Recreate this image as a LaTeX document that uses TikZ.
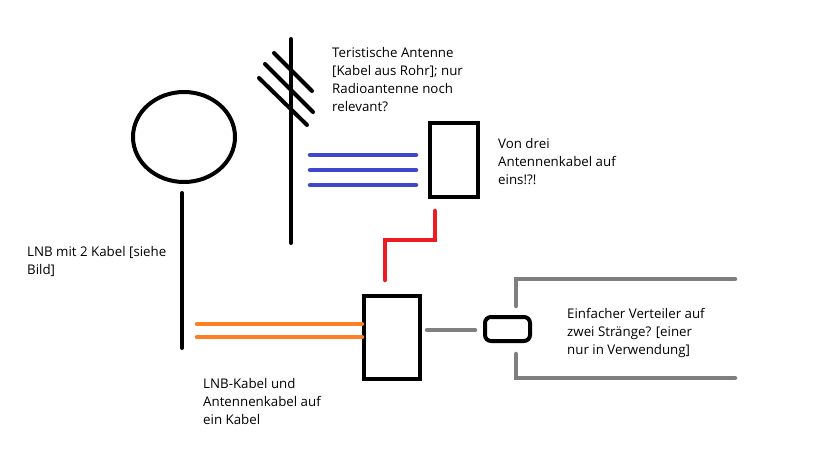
\documentclass[tikz,border=0pt]{standalone}
\usepackage{fontspec}
\setmainfont{Open Sans}
\usetikzlibrary{calc,positioning,shapes.geometric}
\definecolor{kabelblau}{RGB}{63,72,204}
\definecolor{kabelrot}{RGB}{237,28,36}
\definecolor{kabelorange}{RGB}{255,127,39}
\definecolor{kabelgrau}{RGB}{127,127,127}
\tikzset{
	kasten/.style={draw=black, line width=4pt, inner sep=0pt},
	notiz/.style={anchor=north west, align=left, inner sep=0pt, font=\fontsize{13.3}{18}\selectfont},
	kabel/.style={line width=4.5pt, line cap=round}
}

\begin{document}
\begin{tikzpicture}[x=1pt, y=-1pt]
		%%%%% START %%%%%
		\fill[white] (0, 0) rectangle (819, 460);
		\useasboundingbox (0, 0) rectangle (819, 460);
		
		% Schuessel mit LNB
		\node[kasten, ellipse, minimum width=102pt, minimum height=90pt] (schuessel) at (184, 137) {};
		\coordinate (lnboben) at (182, 193);
		\coordinate (lnbunten) at (182, 348);
		\draw[kabel, black, line width=4pt] (lnboben) -- (lnbunten);
		
		% terrestrische Antenne
		\coordinate (mastoben) at (291, 39);
		\coordinate (mastunten) at (291, 243);
		\draw[kabel, black, line width=4pt] (mastoben) -- (mastunten);
		\draw[kabel, black, line width=4pt] (274, 53) -- (312, 91);
		\draw[kabel, black, line width=4pt] (265, 64) -- (313, 112);
		\draw[kabel, black, line width=4pt] (259, 78) -- (307, 125);
		
		% Kaesten
		\node[kasten, minimum width=48pt, minimum height=74pt] (weiche) at (454, 160) {};
		\node[kasten, minimum width=56pt, minimum height=83pt] (einspeiser) at (392, 337.5) {};
		\node[kasten, rounded corners=6pt, minimum width=45pt, minimum height=24pt] (verteiler) at (507.5, 329) {};
		
		% Antennenkabel
		\foreach \y in {155, 170, 185}
			\draw[kabel, kabelblau] (310, \y) -- (416, \y);
		\draw[kabel, kabelrot, line join=miter] ($(weiche.south)+(-19, 12)$) |- (385, 240) -- ($(einspeiser.north)+(-7, -14)$);
		\foreach \y in {324, 337}
			\draw[kabel, kabelorange] (197, \y) -- (einspeiser.west |- 0, \y);
		\draw[kabel, kabelgrau] ($(einspeiser.east)+(5, -7.5)$) -- ($(verteiler.west)+(-8, 1)$);
		\draw[kabel, kabelgrau, line join=miter] (516, 306) -- (516, 279) -- (735, 279);
		\draw[kabel, kabelgrau, line join=miter] (516, 354) -- (516, 378) -- (735, 378);
		
		% Beschriftung
		\node[notiz] (tantenne) at (332, 47) {Teristische Antenne\\{[}Kabel aus Rohr{]}; nur\\Radioantenne noch\\relevant?};
		\node[notiz] (tweiche) at (498, 138) {Von drei\\Antennenkabel auf\\eins!?!};
		\node[notiz] (tlnb) at (27, 246) {LNB mit 2 Kabel {[}siehe\\Bild{]}};
		\node[notiz] (teinspeiser) at (203, 378) {LNB-Kabel und\\Antennenkabel auf\\ein Kabel};
		\node[notiz] (tverteiler) at (567, 308) {Einfacher Verteiler auf\\zwei Stränge? {[}einer\\nur in Verwendung{]}};
		%%%%% END %%%%%
	\end{tikzpicture}
\end{document}
